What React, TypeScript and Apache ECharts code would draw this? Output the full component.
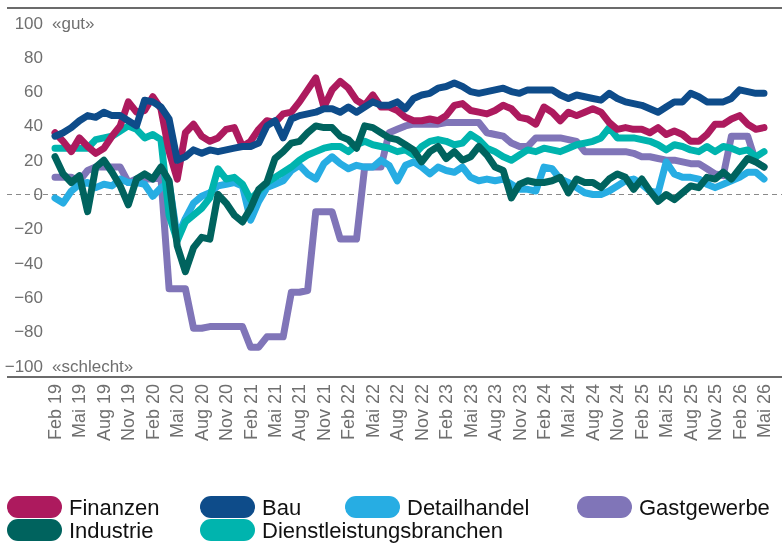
import React, { useEffect, useRef } from "react";
import * as echarts from "echarts";

const monthNames = ["Jan", "Feb", "Mär", "Apr", "Mai", "Jun", "Jul", "Aug", "Sep", "Okt", "Nov", "Dez"];
// Monthly categories from Feb 19 to Mai 26
const categories: string[] = [];
for (let k = 0; k < 88; k++) {
  const m = (1 + k) % 12;
  const y = 19 + Math.floor((1 + k) / 12);
  categories.push(`${monthNames[m]} ${y}`);
}

const yTicks = [-100, -80, -60, -40, -20, 0, 20, 40, 60, 80, 100];

const finanzen = [36,31,25,33,28,24,27,34,40,54,48,49,57,50,25,9,36,41,34,31,33,38,39,28,31,38,43,42,47,48,54,61,68,51,61,66,62,55,52,58,51,51,49,45,43,43,44,43,46,52,53,49,48,47,49,52,50,45,44,41,51,48,43,48,46,48,50,48,42,38,39,38,38,36,39,35,37,35,31,31,35,41,41,44,46,41,38,39];
const bau = [34,36,39,43,46,45,48,46,46,43,40,55,54,51,44,20,22,26,24,26,25,26,27,28,28,30,40,43,33,44,46,47,48,50,50,48,51,48,51,54,52,52,54,50,56,58,59,62,63,65,63,60,59,60,61,62,60,59,61,61,61,61,58,56,58,57,56,55,59,56,54,53,52,50,48,51,54,54,59,57,54,54,54,56,61,60,59,59];
const detailhandel = [-2,-5,2,6,7,4,6,5,9,7,7,6,-1,4,7,-25,-14,-5,-1,1,5,6,7,5,-15,-4,4,6,8,14,17,12,9,18,22,18,15,17,16,16,20,17,8,17,19,16,12,16,14,13,16,10,8,9,8,9,6,3,3,2,16,15,9,7,4,1,0,0,2,5,8,9,6,2,1,19,12,10,10,9,6,4,6,8,10,13,13,9];
const gastgewerbe = [10,10,10,8,14,16,16,16,16,7,9,9,9,10,-55,-55,-55,-78,-78,-77,-77,-77,-77,-77,-89,-89,-83,-83,-83,-57,-57,-56,-10,-10,-10,-26,-26,-26,16,16,16,36,38,40,41,41,41,41,42,42,42,42,42,36,35,34,30,28,28,33,33,33,33,32,31,25,25,25,25,25,25,24,22,22,21,20,20,19,18,18,15,12,11,34,34,34,19,16];
const industrie = [22,12,7,11,-10,16,20,13,5,-6,9,12,9,16,8,-30,-45,-31,-25,-26,0,-5,-12,-16,-8,3,7,21,25,30,31,36,40,39,39,34,32,27,40,39,36,33,32,29,26,19,25,28,21,25,20,22,28,23,16,14,-2,6,8,7,7,8,10,1,9,7,7,4,9,12,10,3,9,2,-4,0,-3,1,5,4,10,9,13,9,15,21,19,16];
const dienstleistung = [27,27,27,27,27,32,33,34,37,40,38,33,35,32,-12,-27,-16,-12,-8,-2,15,9,10,6,-3,2,7,10,13,16,20,23,25,27,28,28,25,29,31,29,28,27,25,26,23,28,31,32,31,29,30,35,32,27,25,22,20,23,26,25,27,26,25,27,29,30,31,33,39,33,33,33,32,31,29,26,29,28,26,25,28,25,28,27,25,26,22,25];

const seriesDefs = [
  { name: "Gastgewerbe", data: gastgewerbe, color: "#8075b8" },
  { name: "Detailhandel", data: detailhandel, color: "#27ade3" },
  { name: "Dienstleistungsbranchen", data: dienstleistung, color: "#00b4ae" },
  { name: "Industrie", data: industrie, color: "#00635e" },
  { name: "Finanzen", data: finanzen, color: "#ad1a5e" },
  { name: "Bau", data: bau, color: "#0e4c8a" },
];

const legendPlaces = [
  { name: "Finanzen", left: 7, top: 496 },
  { name: "Bau", left: 200, top: 496 },
  { name: "Detailhandel", left: 345, top: 496 },
  { name: "Gastgewerbe", left: 577, top: 496 },
  { name: "Industrie", left: 7, top: 519 },
  { name: "Dienstleistungsbranchen", left: 200, top: 519 },
];

const FONT = "'Liberation Sans', Arial, sans-serif";
const GREY = "#6f6f6f";
const PILL = "path://M11,0 L44,0 A11,11 0 0 1 44,22 L11,22 A11,11 0 0 1 11,0 Z";

export default function App() {
  const ref = useRef<HTMLDivElement>(null);
  useEffect(() => {
    if (!ref.current) return;
    const chart = echarts.init(ref.current, null, { renderer: "svg" });
    const option: any = {
      animation: false,
      textStyle: { fontFamily: FONT },
      grid: { left: 55, right: 18, top: 23, bottom: 178, containLabel: false },
      xAxis: {
        type: "category",
        data: categories,
        boundaryGap: false,
        axisLine: { show: false },
        axisTick: { show: false },
        splitLine: { show: false },
        axisLabel: {
          interval: 2,
          rotate: 90,
          margin: 18,
          fontSize: 18,
          color: GREY,
          fontFamily: FONT,
        },
      },
      yAxis: {
        type: "value",
        min: yTicks[0],
        max: yTicks[yTicks.length - 1],
        interval: 20,
        axisLine: { show: false },
        axisTick: { show: false },
        splitLine: { show: false },
        axisLabel: {
          margin: 12,
          fontSize: 17,
          color: GREY,
          fontFamily: FONT,
          formatter: (v: number) => (v < 0 ? "\u2212" + Math.abs(v) : String(v)),
        },
      },
      legend: legendPlaces.map((l) => ({
        data: [l.name],
        left: l.left,
        top: l.top,
        padding: 0,
        itemWidth: 55,
        itemHeight: 22,
        itemGap: 0,
        icon: PILL,
        itemStyle: { borderWidth: 0 },
        textStyle: { fontSize: 22, color: "#111", fontFamily: FONT, padding: [0, 0, 0, 2] },
        selectedMode: false,
      })),
      series: seriesDefs.map((s, i) => ({
        name: s.name,
        type: "line",
        data: s.data,
        showSymbol: false,
        symbol: "none",
        color: s.color,
        z: 3 + i,
        lineStyle: { width: 7, color: s.color, cap: "round", join: "round" },
        itemStyle: { color: s.color },
      })),
    };
    chart.setOption(option);
    const y0 = chart.convertToPixel({ yAxisIndex: 0 }, 0) as number;
    chart.setOption({
      graphic: [
        { type: "line", z: 0, shape: { x1: 7, y1: 8, x2: 782, y2: 8 }, style: { stroke: "#3a3a3a", lineWidth: 1.5 } },
        { type: "line", z: 0, shape: { x1: 7, y1: 377, x2: 782, y2: 377 }, style: { stroke: "#3a3a3a", lineWidth: 1.5 } },
        { type: "line", z: 0, shape: { x1: 7, y1: y0, x2: 782, y2: y0 }, style: { stroke: "#8a8a8a", lineWidth: 1.2, lineDash: [5, 4] } },
        { type: "text", x: 52, y: 23, style: { text: "«gut»", fontSize: 17, fill: GREY, fontFamily: FONT, verticalAlign: "middle", align: "left" } },
        { type: "text", x: 52, y: 366, style: { text: "«schlecht»", fontSize: 17, fill: GREY, fontFamily: FONT, verticalAlign: "middle", align: "left" } },
      ],
    });
    return () => chart.dispose();
  }, []);
  return <div ref={ref} style={{ position: "fixed", left: 0, top: 0, width: 782, height: 544 }} />;
}
